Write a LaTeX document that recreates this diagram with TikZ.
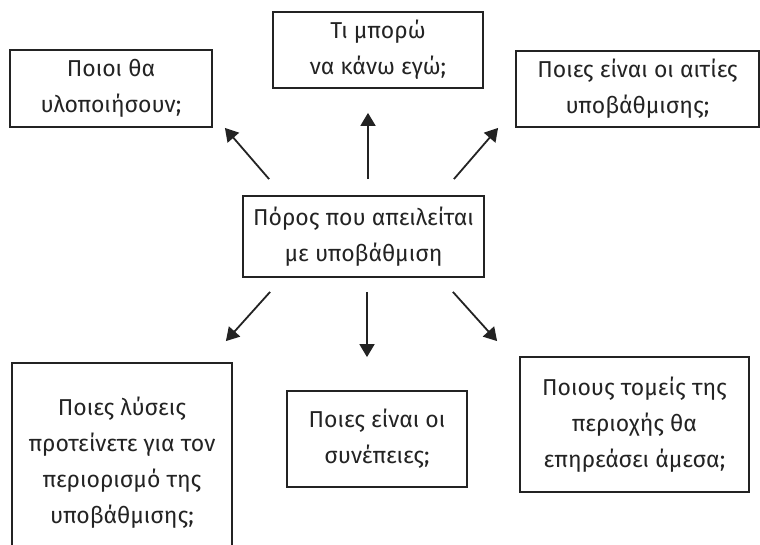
\documentclass[tikz,border=0pt]{standalone}
\usepackage{fontspec}
\setmainfont{Fira Sans}
\usetikzlibrary{arrows.meta}
\definecolor{ink}{HTML}{232323}
\begin{document}
\begin{tikzpicture}[x=1pt,y=-1pt,
        box/.style={draw=ink,line width=1.8pt,text=ink,align=center,inner sep=0pt,
            font=\fontsize{23}{36}\selectfont},
        >={Triangle[length=13pt,width=15pt]},
        arr/.style={draw=ink,line width=1.8pt,->}]
        \clip (0,0) rectangle (760,545);
        \node[box,minimum width=241pt,minimum height=81pt] (res) at (363.5,236.5) {Πόρος που απειλείται\\με υποβάθμιση};
        \node[box,minimum width=202pt,minimum height=77pt] (who) at (111,88.5) {Ποιοι θα\\υλοποιήσουν;};
        \node[box,minimum width=210pt,minimum height=76pt] (me) at (378,50) {Τι μπορώ\\να κάνω εγώ;};
        \node[box,minimum width=243pt,minimum height=76pt] (causes) at (637.5,89) {Ποιες είναι οι αιτίες\\υποβάθμισης;};
        \node[box,minimum width=220pt,minimum height=200pt] (fix) at (122,463) {Ποιες λύσεις\\προτείνετε για τον\\περιορισμό της\\υποβάθμισης;};
        \node[box,minimum width=180pt,minimum height=96pt] (effects) at (377,439) {Ποιες είναι οι\\συνέπειες;};
        \node[box,minimum width=229pt,minimum height=135pt] (sectors) at (634.5,424.5) {Ποιους τομείς της\\περιοχής θα\\επηρεάσει άμεσα;};

        \draw[arr] ([xshift=27pt,yshift=16pt]res.north west) -- ([xshift=12pt]who.south east);
        \draw[arr] ([xshift=4.5pt,yshift=16pt]res.north) -- ([xshift=-10pt,yshift=-24pt]me.south);
        \draw[arr] ([xshift=-31pt,yshift=16pt]res.north east) -- ([xshift=-17pt]causes.south west);
        \draw[arr] ([xshift=28pt,yshift=-14pt]res.south west) -- ([xshift=-7pt,yshift=21pt]fix.north east);
        \draw[arr] ([xshift=3.5pt,yshift=-14pt]res.south) -- ([xshift=-10pt,yshift=33pt]effects.north);
        \draw[arr] ([xshift=-32pt,yshift=-14pt]res.south east) -- ([xshift=-22pt,yshift=15pt]sectors.north west);
    \end{tikzpicture}
\end{document}
